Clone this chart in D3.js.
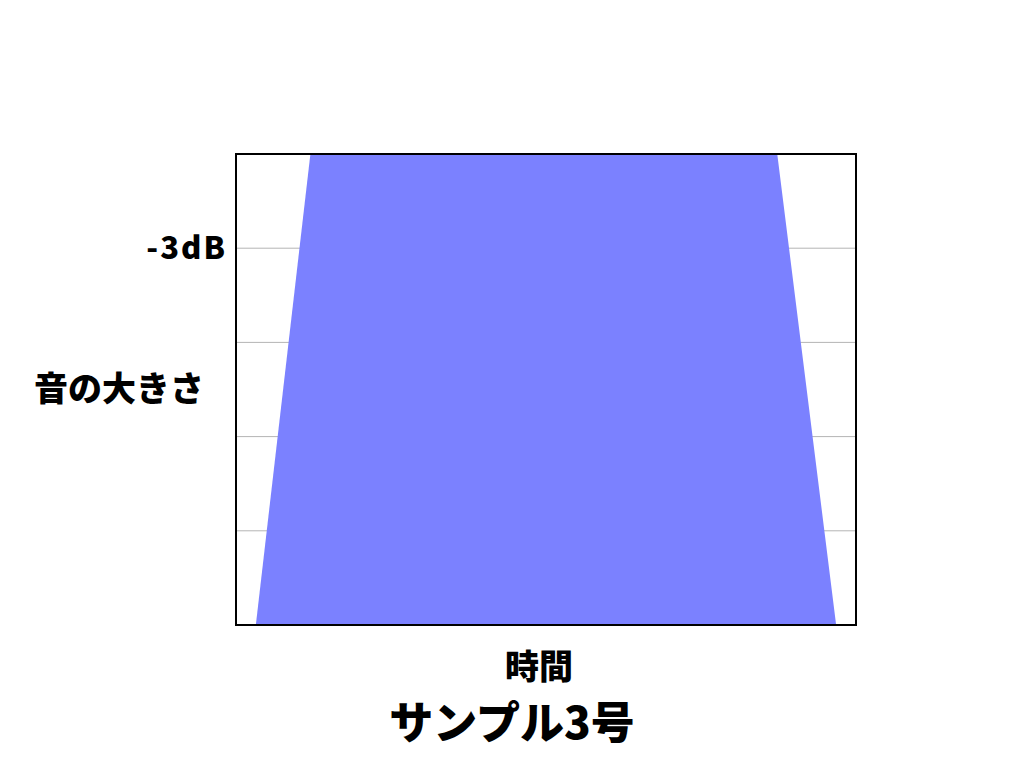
<!DOCTYPE html>
<html>
<head>
<meta charset="utf-8">
<script src="https://cdn.jsdelivr.net/npm/d3@7"></script>
<style>
  body { margin: 0; background: #fff; }
  text { font-family: "Noto Sans CJK JP", "Noto Sans", sans-serif; font-weight: 900; fill: #000; }
</style>
</head>
<body>
<script>
// time points of the envelope (0-100 across the plot) and their loudness level (0-5)
var timePoints = [3.2, 12, 87.3, 96.8]
var levels = [0, 5, 5, 0]

// gridline levels and the one tick label we show
var gridLevels = [1, 2, 3, 4]
var tickLabels = [{ level: 4, text: '-3dB' }]

var yTitle = '音の大きさ'
var xTitle = '時間'
var chartTitle = 'サンプル3号'

var width = 1024
var height = 768

// plot box (window.top is read-only, so no plain "top" here)
var plotLeft = 236, plotRight = 856, plotTop = 154, plotBottom = 625

var svg = d3.select('body').append('svg')
  .attr('width', width)
  .attr('height', height)

var xScale = d3.scaleLinear().domain([0, 100]).range([plotLeft, plotRight])
var yScale = d3.scaleLinear().domain([0, 5]).range([plotBottom, plotTop])

// grid lines
svg.append('g')
  .selectAll('line')
  .data(gridLevels)
  .enter()
  .append('line')
  .attr('x1', plotLeft)
  .attr('x2', plotRight)
  .attr('y1', d => yScale(d))
  .attr('y2', d => yScale(d))
  .attr('stroke', '#b4b4b4')
  .attr('stroke-width', 1)

// envelope shape
var envelope = timePoints.map((t, i) => [t, levels[i]])

var area = d3.area()
  .x(d => xScale(d[0]))
  .y0(yScale(0))
  .y1(d => yScale(d[1]))

svg.append('path')
  .datum(envelope)
  .attr('d', area)
  .attr('fill', '#7b81ff')

// frame
svg.append('rect')
  .attr('x', plotLeft)
  .attr('y', plotTop)
  .attr('width', plotRight - plotLeft)
  .attr('height', plotBottom - plotTop)
  .attr('fill', 'none')
  .attr('stroke', '#000')
  .attr('stroke-width', 2)

// tick label (letter-spacing adds a trailing gap, so nudge x right)
svg.selectAll('.tick-label')
  .data(tickLabels)
  .enter()
  .append('text')
  .attr('class', 'tick-label')
  .attr('x', 227)
  .attr('y', d => yScale(d.level) + 11)
  .attr('text-anchor', 'end')
  .attr('font-size', 31)
  .attr('letter-spacing', 2)
  .text(d => d.text)

// titles
svg.append('text')
  .attr('x', 119)
  .attr('y', 401)
  .attr('text-anchor', 'middle')
  .attr('font-size', 34)
  .text(yTitle)

svg.append('text')
  .attr('x', 539)
  .attr('y', 679)
  .attr('text-anchor', 'middle')
  .attr('font-size', 34)
  .text(xTitle)

svg.append('text')
  .attr('x', 512)
  .attr('y', 739)
  .attr('text-anchor', 'middle')
  .attr('font-size', 44)
  .text(chartTitle)
</script>
</body>
</html>
